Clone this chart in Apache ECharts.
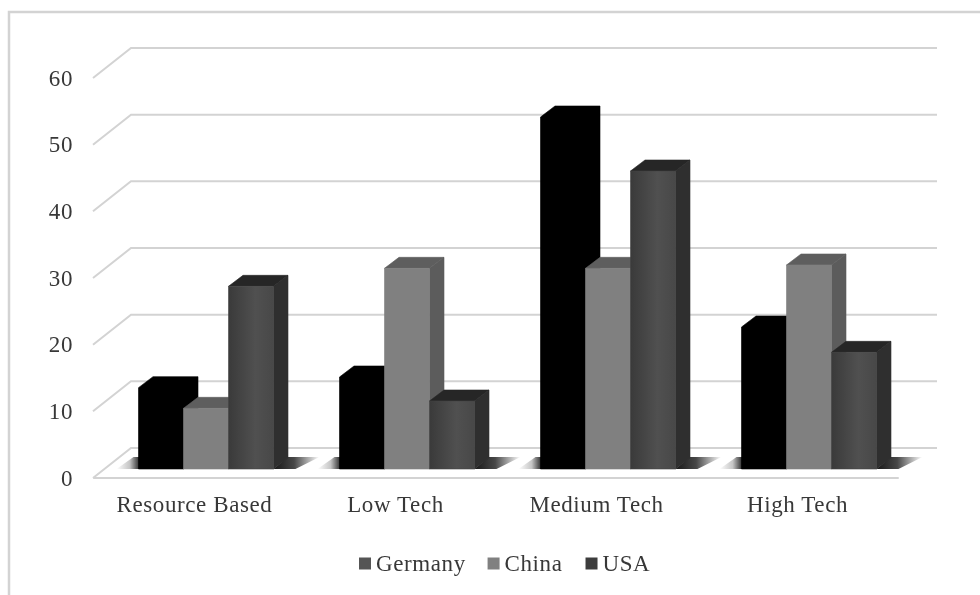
<!DOCTYPE html>
<html>
<head>
<meta charset="utf-8">
<style>
html,body{margin:0;padding:0;background:#fff}
#c{width:980px;height:595px;filter:blur(0.45px)}
#c text{letter-spacing:0.6px}
</style>
<script src="https://cdn.jsdelivr.net/npm/echarts@6/dist/echarts.min.js"></script>
</head>
<body>
<div id="c"></div>
<script>
const categories = ['Resource Based', 'Low Tech', 'Medium Tech', 'High Tech'];
const germany = [12.2, 13.8, 52.8, 21.3];
const china = [9.1, 30.1, 30.1, 30.6];
const usa = [27.4, 10.2, 44.7, 17.5];
const yTicks = [0, 10, 20, 30, 40, 50, 60];

const FONT = '"Liberation Serif", serif';
const TEXT = '#383838';
const GRID = '#d3d3d3';
const WALL = { dx: 38, dy: -30, right: 39 };
const BAR = { shiftX: 11.5, shiftY: -9, width: 45, dx: 14.5, dy: -11 };

const faces = [
  { front: '#000', top: '#000', side: '#000' },
  { front: '#808080', top: '#5e5e5e', side: '#5c5c5c' },
  { front: { type: 'linear', x: 0, y: 0, x2: 1, y2: 0, colorStops: [{ offset: 0, color: '#3a3a3a' }, { offset: 0.6, color: '#505050' }, { offset: 1, color: '#484848' }] }, top: '#262626', side: '#2f2f2f' }
];

function poly(points, fill, stroke) {
  return { type: 'polygon', shape: { points }, style: { fill, stroke: stroke || fill, lineWidth: 0.6 } };
}

function gridItem(params, api) {
  const cs = params.coordSys;
  const y = api.coord([0, api.value(1)])[1];
  const x0 = cs.x - 1;
  return {
    type: 'polyline',
    shape: { points: [[x0, y], [x0 + WALL.dx, y + WALL.dy], [cs.x + cs.width + WALL.right, y + WALL.dy]] },
    style: { stroke: GRID, lineWidth: 2, fill: null }
  };
}

function shadowItem(params, api) {
  const c = api.coord([api.value(0), 0]);
  const band = BAR.width * 3;
  const xc = c[0] + BAR.shiftX;
  const yb = c[1] + BAR.shiftY;
  const l = xc - band / 2, r = xc + band / 2;
  const shade = a => 'rgba(25,25,25,' + a + ')';
  const leftFade = { type: 'linear', x: 0, y: 0, x2: 1, y2: 0, colorStops: [{ offset: 0, color: shade(0) }, { offset: 0.55, color: shade(0.25) }, { offset: 1, color: shade(1) }] };
  const rightFade = { type: 'linear', x: 0, y: 0, x2: 1, y2: 0, colorStops: [{ offset: 0, color: shade(1) }, { offset: 0.45, color: shade(0.8) }, { offset: 1, color: shade(0) }] };
  return {
    type: 'group',
    children: [
      { type: 'polygon', shape: { points: [[l - 22, yb], [l - 5, yb - 12], [l + 2, yb - 12], [l + 2, yb]] }, style: { fill: leftFade } },
      { type: 'polygon', shape: { points: [[r, yb], [r + BAR.dx, yb + BAR.dy - 1], [r + 46, yb + BAR.dy - 1], [r + 22, yb]] }, style: { fill: rightFade } }
    ]
  };
}

function barItem(idx) {
  return function (params, api) {
    const cat = api.value(0);
    const top = api.coord([cat, api.value(1)]);
    const base = api.coord([cat, 0]);
    const f = faces[idx];
    const x0 = top[0] + BAR.shiftX + (idx - 1.5) * BAR.width;
    const x1 = x0 + BAR.width;
    const yt = top[1] + BAR.shiftY;
    const yb = base[1] + BAR.shiftY;
    const dx = BAR.dx, dy = BAR.dy;
    if (idx === 0) {
      return poly([[x0, yt], [x0 + dx, yt + dy], [x1 + dx, yt + dy], [x1 + dx, yb + dy], [x1, yb], [x0, yb]], f.front);
    }
    const frontStroke = idx === 2 ? '#444' : f.front;
    return {
      type: 'group',
      children: [
        poly([[x1, yt], [x1 + dx, yt + dy], [x1 + dx, yb + dy], [x1, yb]], f.side),
        poly([[x0, yt], [x0 + dx, yt + dy], [x1 + dx, yt + dy], [x1, yt]], f.top),
        poly([[x0, yt], [x1, yt], [x1, yb], [x0, yb]], f.front, frontStroke)
      ]
    };
  };
}

const toRows = arr => arr.map((v, i) => [i, v]);

const option = {
  animation: false,
  backgroundColor: '#fff',
  textStyle: { fontFamily: FONT },
  graphic: [{
    type: 'polyline', silent: true, z: -10,
    shape: { points: [[9, 595], [9, 12], [980, 12]] },
    style: { stroke: '#d3d3d3', lineWidth: 2.5, fill: null }
  }],
  grid: { left: 94, right: 82, top: 78, bottom: 117, containLabel: false },
  xAxis: {
    type: 'category', data: categories,
    axisLine: { show: true, lineStyle: { color: GRID, width: 2 } },
    axisTick: { show: false },
    axisLabel: { color: TEXT, fontFamily: FONT, fontSize: 23, margin: 15 }
  },
  yAxis: {
    type: 'value', min: 0, max: 60, interval: 10,
    axisLine: { show: false }, axisTick: { show: false }, splitLine: { show: false },
    axisLabel: { color: TEXT, fontFamily: FONT, fontSize: 23, margin: 21, padding: [3, 0, 0, 0] }
  },
  legend: {
    data: [
      { name: 'Germany', itemStyle: { color: '#555' } },
      { name: 'China', itemStyle: { color: '#808080' } },
      { name: 'USA', itemStyle: { color: '#3c3c3c' } }
    ],
    left: 354, top: 547, icon: 'rect', itemWidth: 12, itemHeight: 12, itemGap: 26,
    textStyle: { color: TEXT, fontFamily: FONT, fontSize: 23 }
  },
  series: [
    { type: 'custom', name: 'grid', data: yTicks.map(v => [0, v]), renderItem: gridItem, silent: true, clip: false, z: 1 },
    { type: 'custom', name: 'shadow', data: categories.map((c, i) => [i, 0]), renderItem: shadowItem, silent: true, clip: false, z: 2 },
    { type: 'custom', name: 'Germany', data: toRows(germany), renderItem: barItem(0), clip: false, z: 3, itemStyle: { color: '#555' } },
    { type: 'custom', name: 'China', data: toRows(china), renderItem: barItem(1), clip: false, z: 4, itemStyle: { color: '#808080' } },
    { type: 'custom', name: 'USA', data: toRows(usa), renderItem: barItem(2), clip: false, z: 5, itemStyle: { color: '#3c3c3c' } }
  ]
};
echarts.init(document.getElementById('c'), null, { renderer: 'svg' }).setOption(option);
</script>
</body>
</html>
